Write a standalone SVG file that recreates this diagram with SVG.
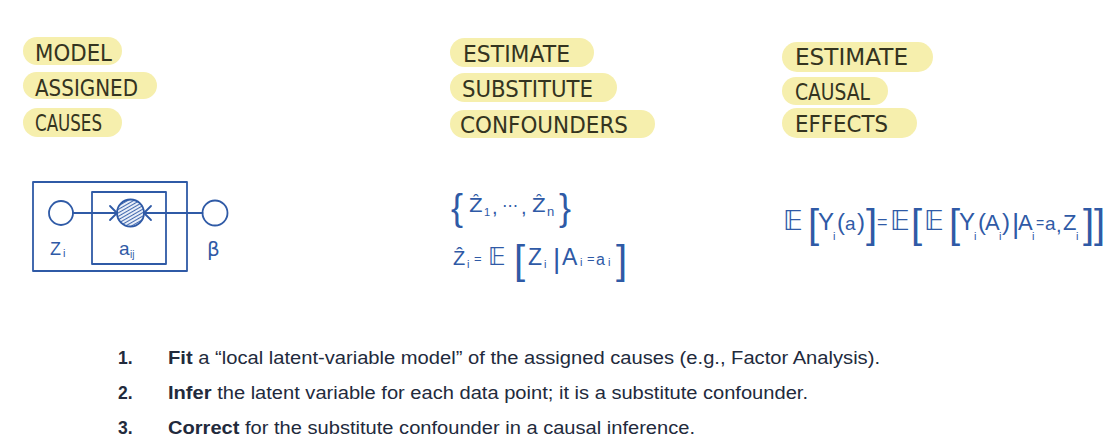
<svg xmlns="http://www.w3.org/2000/svg" width="1113" height="438" viewBox="0 0 1113 438">
<defs>
<style>
.hl{fill:#f6efad}
.hw{font-family:"DejaVu Sans","Liberation Sans",sans-serif;font-size:23px;fill:#34341f}
.m{font-family:"Liberation Sans","DejaVu Sans",sans-serif;fill:#2f5aa6}
.bb{font-family:"DejaVu Sans","Liberation Sans",sans-serif;fill:#2f5aa6}
.st{fill:none;stroke:#2f5aa6;stroke-width:1.8;stroke-linecap:round;stroke-linejoin:round}
.li{font-family:"Liberation Sans",Arial,sans-serif;font-size:17.5px;fill:#222a3c}
.b{font-weight:bold}
</style>
<pattern id="hatch" width="3" height="3" patternUnits="userSpaceOnUse" patternTransform="rotate(60)">
<rect width="3" height="3" fill="#e8eef8"/>
<line x1="0" y1="0" x2="0" y2="3" stroke="#2f5aa6" stroke-width="1.8"/>
</pattern>
</defs>
<rect width="1113" height="438" fill="#ffffff"/>

<g id="col1">
<rect class="hl" x="23" y="37" width="99" height="28" rx="14"/>
<rect class="hl" x="23" y="72" width="134" height="27" rx="13.5"/>
<rect class="hl" x="23" y="108" width="99" height="29" rx="14.5"/>
<text class="hw" x="35" y="61" textLength="77" lengthAdjust="spacingAndGlyphs">MODEL</text>
<text class="hw" x="35" y="96" textLength="103" lengthAdjust="spacingAndGlyphs">ASSIGNED</text>
<text class="hw" x="35" y="131" textLength="67" lengthAdjust="spacingAndGlyphs">CAUSES</text>
</g>

<g id="col2">
<rect class="hl" x="450" y="38" width="144" height="29" rx="14.5"/>
<rect class="hl" x="450" y="73" width="167" height="29" rx="14.5"/>
<rect class="hl" x="450" y="110" width="205" height="28" rx="14"/>
<text class="hw" x="463" y="62" textLength="107" lengthAdjust="spacingAndGlyphs">ESTIMATE</text>
<text class="hw" x="462" y="97" textLength="131" lengthAdjust="spacingAndGlyphs">SUBSTITUTE</text>
<text class="hw" x="460" y="133" textLength="168" lengthAdjust="spacingAndGlyphs">CONFOUNDERS</text>
</g>

<g id="col3">
<rect class="hl" x="782" y="42" width="151" height="30" rx="15"/>
<rect class="hl" x="782" y="77" width="106" height="28" rx="14"/>
<rect class="hl" x="782" y="108" width="135" height="30" rx="15"/>
<text class="hw" x="795" y="65" textLength="113" lengthAdjust="spacingAndGlyphs">ESTIMATE</text>
<text class="hw" x="795" y="100" textLength="75" lengthAdjust="spacingAndGlyphs">CAUSAL</text>
<text class="hw" x="795" y="132" textLength="93" lengthAdjust="spacingAndGlyphs">EFFECTS</text>
</g>

<g id="plate-outer"><rect class="st" x="33" y="182" width="154" height="89"/></g>
<g id="plate-inner"><rect class="st" x="92" y="192" width="74" height="72"/></g>
<g id="node-z">
<circle class="st" cx="61" cy="213" r="12"/>
<text class="m" x="50" y="255" font-size="18">Z<tspan x="63" y="257" font-size="11">i</tspan></text>
</g>
<g id="node-a">
<circle cx="130.5" cy="213" r="13.5" fill="url(#hatch)" stroke="#2f5aa6" stroke-width="1.8"/>
<text class="m" x="119" y="255" font-size="19">a<tspan x="130" y="258" font-size="10">ij</tspan></text>
</g>
<g id="node-beta">
<circle class="st" cx="215" cy="213" r="12.5"/>
<text class="bb" x="207" y="256" font-size="20">β</text>
</g>
<g id="connectors">
<line class="st" x1="73" y1="213" x2="117" y2="213"/>
<polyline class="st" points="110,206 117,213 110,220"/>
<line class="st" x1="202.5" y1="213" x2="144" y2="213"/>
<polyline class="st" points="151,206 144,213 151,220"/>
</g>

<g id="formula-z">
<text class="m" x="451" y="220" font-size="36">{<tspan x="469" y="212" font-size="20" font-family="DejaVu Sans">Ẑ</tspan><tspan x="484" y="216" font-size="11">1</tspan><tspan x="492" y="214" font-size="20">,</tspan><tspan x="502" y="211" font-size="16" font-family="DejaVu Sans">⋯</tspan><tspan x="521" y="214" font-size="20">,</tspan><tspan x="532" y="212" font-size="20" font-family="DejaVu Sans">Ẑ</tspan><tspan x="547" y="216" font-size="13">n</tspan><tspan x="559" y="220" font-size="36">}</tspan></text>

<text class="m" x="453" y="265" font-size="20" font-family="DejaVu Sans">Ẑ<tspan x="467" y="268" font-size="11" font-family="Liberation Sans">i</tspan><tspan x="474" y="263" font-size="13" font-family="Liberation Sans">=</tspan><tspan x="488" y="265" font-size="24">𝔼</tspan><tspan x="514" y="274" font-size="40" font-family="Liberation Sans">[</tspan><tspan x="528" y="265" font-size="23" font-family="Liberation Sans">Z</tspan><tspan x="544" y="268" font-size="11" font-family="Liberation Sans">i</tspan><tspan x="553" y="268" font-size="28" font-family="Liberation Sans">|</tspan><tspan x="562" y="265" font-size="23" font-family="Liberation Sans">A</tspan><tspan x="580" y="266" font-size="11" font-family="Liberation Sans">i</tspan><tspan x="587" y="263" font-size="13" font-family="Liberation Sans">=</tspan><tspan x="596" y="265" font-size="16" font-family="Liberation Sans">a</tspan><tspan x="608" y="266" font-size="11" font-family="Liberation Sans">i</tspan><tspan x="616" y="274" font-size="40" font-family="Liberation Sans">]</tspan></text>
</g>

<g id="formula-effect">
<text class="m" x="783" y="230" font-size="27" font-family="DejaVu Sans">𝔼<tspan x="808" y="238" font-size="40" font-family="Liberation Sans">[</tspan><tspan x="818" y="230" font-size="24" font-family="Liberation Sans">Y</tspan><tspan x="833" y="240" font-size="11" font-family="Liberation Sans">i</tspan><tspan x="837" y="230" font-size="24" font-family="Liberation Sans">(</tspan><tspan x="845" y="230" font-size="19" font-family="Liberation Sans">a</tspan><tspan x="857" y="230" font-size="24" font-family="Liberation Sans">)</tspan><tspan x="866" y="238" font-size="40" font-family="Liberation Sans">]</tspan><tspan x="877" y="228" font-size="18" font-family="Liberation Sans">=</tspan><tspan x="890" y="230">𝔼</tspan><tspan x="911" y="238" font-size="40" font-family="Liberation Sans">[</tspan><tspan x="924" y="230">𝔼</tspan><tspan x="949" y="238" font-size="40" font-family="Liberation Sans">[</tspan><tspan x="959" y="230" font-size="24" font-family="Liberation Sans">Y</tspan><tspan x="974" y="240" font-size="11" font-family="Liberation Sans">i</tspan><tspan x="978" y="230" font-size="24" font-family="Liberation Sans">(</tspan><tspan x="985" y="230" font-size="22" font-family="Liberation Sans">A</tspan><tspan x="999" y="240" font-size="11" font-family="Liberation Sans">i</tspan><tspan x="1002" y="230" font-size="24" font-family="Liberation Sans">)</tspan><tspan x="1012" y="233" font-size="28" font-family="Liberation Sans">|</tspan><tspan x="1018" y="230" font-size="22" font-family="Liberation Sans">A</tspan><tspan x="1032" y="240" font-size="11" font-family="Liberation Sans">i</tspan><tspan x="1036" y="228" font-size="14" font-family="Liberation Sans">=</tspan><tspan x="1045" y="230" font-size="19" font-family="Liberation Sans">a</tspan><tspan x="1056" y="232" font-size="20" font-family="Liberation Sans">,</tspan><tspan x="1063" y="230" font-size="22" font-family="Liberation Sans">Z</tspan><tspan x="1076" y="240" font-size="11" font-family="Liberation Sans">i</tspan><tspan x="1083" y="238" font-size="40" font-family="Liberation Sans">]</tspan><tspan x="1094" y="238" font-size="40" font-family="Liberation Sans">]</tspan></text>
</g>

<g id="steps">
<text class="li b" x="118" y="364">1.</text>
<text class="li" x="168" y="364" textLength="712" lengthAdjust="spacingAndGlyphs"><tspan class="b">Fit</tspan> a “local latent-variable model” of the assigned causes (e.g., Factor Analysis).</text>
<text class="li b" x="118" y="399">2.</text>
<text class="li" x="168" y="399" textLength="640" lengthAdjust="spacingAndGlyphs"><tspan class="b">Infer</tspan> the latent variable for each data point; it is a substitute confounder.</text>
<text class="li b" x="118" y="434">3.</text>
<text class="li" x="168" y="434" textLength="527" lengthAdjust="spacingAndGlyphs"><tspan class="b">Correct</tspan> for the substitute confounder in a causal inference.</text>
</g>
</svg>
